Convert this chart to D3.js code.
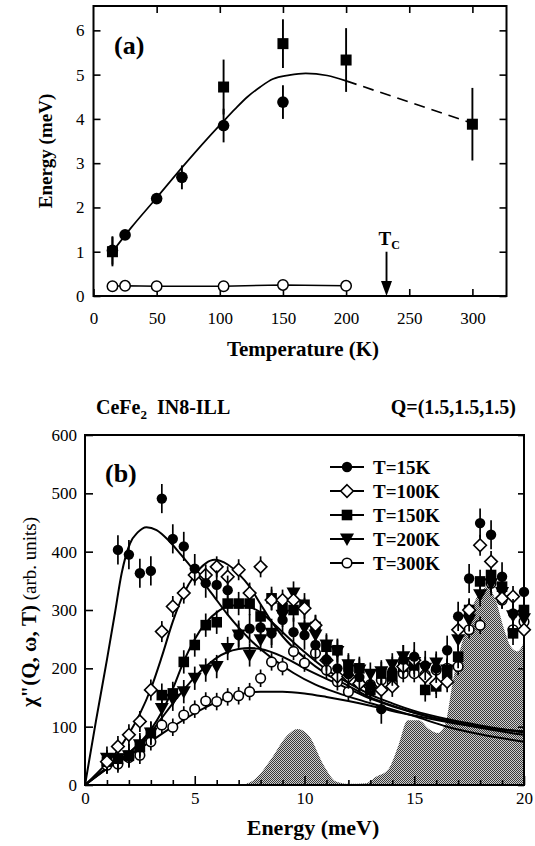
<!DOCTYPE html>
<html>
<head>
<meta charset="utf-8">
<script src="https://cdn.jsdelivr.net/npm/d3@7"></script>
<style>
body { margin: 0; background: #fff; }
text { font-family: "Liberation Serif", "Times New Roman", serif; }
</style>
</head>
<body>
<svg id="fig" width="535" height="846"></svg>
<script>
// ---------- panel (a) data ----------
const tempCircles = [15, 25, 50, 70, 103, 150];
const energyCircles = [1.03, 1.38, 2.2, 2.68, 3.85, 4.38];
const errCircles = [0.32, 0.08, 0.1, 0.27, 0.38, 0.38];
const tempSquares = [15, 103, 150, 200, 300];
const energySquares = [1.0, 4.72, 5.7, 5.33, 3.88];
const errSquares = [0.33, 0.62, 0.55, 0.72, 0.82];
const tempOpen = [15, 25, 50, 103, 150, 200];
const energyOpen = [0.22, 0.23, 0.22, 0.22, 0.25, 0.23];
const fitTemp = [15, 30, 50, 70, 90, 103, 112, 122, 132, 142, 155, 168, 185, 200];
const fitEnergy = [1.0, 1.55, 2.22, 2.9, 3.55, 3.95, 4.22, 4.5, 4.72, 4.9, 4.99, 5.03, 4.98, 4.86];
const dashTemp = [200, 300];
const dashEnergy = [4.86, 3.9];
const tempTicks = [0, 50, 100, 150, 200, 250, 300];
const energyTicks = [0, 1, 2, 3, 4, 5, 6];
const tcTemp = 232;

// ---------- panel (b) data ----------
const seriesNames = ["T=15K", "T=100K", "T=150K", "T=200K", "T=300K"];
const seriesMarks = ["circleFill", "diamond", "square", "triangle", "circleOpen"];
const seriesErr = [25, 18, 20, 20, 15];
const e15 = [1.5,2,2.5,3,3.5,4,4.5,5,5.5,6,6.5,7,7.5,8,8.5,9,9.5,10,10.5,11,11.5,12,12.5,13,13.5,14,14.5,15,15.5,16,16.5,17,17.5,18,18.5,19,19.5,20];
const v15 = [403,395,363,367,491,422,409,371,346,343,334,257,268,270,260,283,262,257,240,215,200,190,185,170,130,195,215,220,205,200,231,289,354,449,429,357,294,331];
const eGrid = [1,1.5,2,2.5,3,3.5,4,4.5,5,5.5,6,6.5,7,7.5,8,8.5,9,9.5,10,10.5,11,11.5,12,12.5,13,13.5,14,14.5,15,15.5,16,16.5,17,17.5,18,18.5,19,19.5,20];
const v100 = [40,66,86,109,163,263,306,329,360,360,374,357,369,329,374,317,317,317,303,274,214,186,186,174,169,163,169,203,214,186,174,177,266,300,411,383,320,323,266];
const v150 = [40,45,50,65,89,154,157,211,240,274,279,311,311,311,289,320,303,300,309,271,237,231,203,200,163,191,186,203,205,163,169,191,220,300,349,360,340,260,300];
const v200 = [46,45,50,69,89,131,147,160,183,197,203,234,257,223,249,260,291,329,269,257,240,229,206,197,190,194,206,220,210,200,209,197,249,283,326,345,330,290,285];
const v300 = [34,36,47,51,74,103,99,120,130,144,143,151,153,160,183,211,203,229,209,226,197,177,160,175,172,180,175,191,191,189,197,200,203,266,274,346,317,266,280];

const fitE15 = [0,0.5,1,1.36,1.67,2.05,2.4,2.8,3.26,3.79,4.39,5,5.76,6.5,7.5,8.5,9.5,10.5,11.5,12.5,13.5,15,16.5,18,20];
const fitV15 = [0,110,215,294,363,414,433,442,437,420,394,366,329,292,250,218,192,172,158,146,135,118,100,87,74];
const fitE100 = [0,1,1.5,2,2.5,3,3.5,4,4.5,5,5.5,5.9,6.5,7,7.5,8,8.5,9,10,11,12,13,14,15,16.5,18,20];
const fitV100 = [0,38,60,88,122,165,220,280,328,360,380,386,378,362,340,310,280,255,218,190,170,150,136,124,110,98,86];
const fitE150 = [0,1,2,3,3.5,4,4.5,5,5.5,6,6.5,7,7.5,8,8.5,9,10,11,12,13,14,15,16.5,18,20];
const fitV150 = [0,30,55,95,125,165,212,250,278,296,306,308,305,296,280,262,228,198,175,155,140,127,113,102,90];
const fitE200 = [0,1,2,3,3.5,4,4.5,5,5.5,6,6.5,7,7.5,8,9,10,11,12,13,14,15,16.5,18,20];
const fitV200 = [0,28,55,90,115,140,163,185,203,218,228,233,235,233,220,200,182,165,148,135,124,110,100,91];
const fitE300 = [0,1,2,3,4,5,6,7,8,9,10,11,12,13,14,15,16.5,18,20];
const fitV300 = [0,28,50,75,100,123,142,155,160,160,157,151,144,136,127,119,108,99,92];

const grayE = [7.2,7.8,8.56,9.17,9.7,10.23,10.83,11.44,12.0,12.8,13.26,13.8,14.3,14.7,15.2,15.7,16.06,16.4,16.8,17.05,17.35,17.7,18.0,18.35,18.7,19.1,19.4,19.7,20];
const grayV = [0,12,49,83,96,83,37,6,2,3,14,26,70,111,111,95,89,103,186,226,266,310,330,340,318,266,237,229,245];
const chiTicks = [0, 100, 200, 300, 400, 500, 600];
const energyBTicks = [0, 5, 10, 15, 20];

const svg = d3.select("#fig");
const serif = "'Liberation Serif', 'Times New Roman', serif";

// ---------- panel (a) ----------
const xA = d3.scaleLinear().domain([0, 327]).range([93.5, 506.5]);
const yA = d3.scaleLinear().domain([0, 6.55]).range([296, 6]);
const ga = svg.append("g");

ga.append("g").attr("transform", "translate(93.5,0)")
  .call(d3.axisLeft(yA).tickValues(energyTicks).tickSizeInner(-7).tickSizeOuter(0).tickPadding(9).tickFormat(d3.format("d")));
ga.append("g").attr("transform", "translate(506.5,0)")
  .call(d3.axisRight(yA).tickValues(energyTicks).tickSizeInner(-7).tickSizeOuter(0).tickFormat(""));
ga.append("g").attr("transform", "translate(0,296)")
  .call(d3.axisBottom(xA).tickValues(tempTicks).tickSizeInner(-7).tickSizeOuter(0).tickPadding(16));
ga.append("g").attr("transform", "translate(0,6)")
  .call(d3.axisTop(xA).tickValues(tempTicks.slice(1)).tickSizeInner(-7).tickSizeOuter(0).tickFormat(""));
ga.selectAll(".domain").remove();
ga.selectAll(".tick line").attr("stroke", "#000").attr("stroke-width", 1.6);
ga.selectAll(".tick text").attr("font-size", 17).attr("fill", "#000");
ga.append("rect").attr("x", 93.5).attr("y", 6).attr("width", 413).attr("height", 290)
  .attr("fill", "none").attr("stroke", "#000").attr("stroke-width", 2);

ga.append("path").datum(d3.zip(fitTemp, fitEnergy))
  .attr("fill", "none").attr("stroke", "#000").attr("stroke-width", 1.7)
  .attr("d", d3.line().x(d => xA(d[0])).y(d => yA(d[1])).curve(d3.curveMonotoneX));
ga.append("path").datum(d3.zip(dashTemp, dashEnergy))
  .attr("fill", "none").attr("stroke", "#000").attr("stroke-width", 1.7).attr("stroke-dasharray", "11,7")
  .attr("d", d3.line().x(d => xA(d[0])).y(d => yA(d[1])));
ga.append("path").datum(d3.zip(tempOpen, energyOpen))
  .attr("fill", "none").attr("stroke", "#000").attr("stroke-width", 1.5)
  .attr("d", d3.line().x(d => xA(d[0])).y(d => yA(d[1])));

// error bars (a)
function errA(ts, es, er) {
  ga.append("g").selectAll("line").data(d3.range(ts.length)).join("line")
    .attr("x1", i => xA(ts[i])).attr("x2", i => xA(ts[i]))
    .attr("y1", i => yA(es[i] - er[i])).attr("y2", i => yA(es[i] + er[i]))
    .attr("stroke", "#000").attr("stroke-width", 1.9);
}
errA(tempCircles, energyCircles, errCircles);
errA(tempSquares, energySquares, errSquares);

ga.append("g").selectAll("circle").data(d3.range(tempCircles.length)).join("circle")
  .attr("cx", i => xA(tempCircles[i])).attr("cy", i => yA(energyCircles[i])).attr("r", 5.8).attr("fill", "#000");
ga.append("g").selectAll("rect").data(d3.range(tempSquares.length)).join("rect")
  .attr("x", i => xA(tempSquares[i]) - 5.5).attr("y", i => yA(energySquares[i]) - 5.5)
  .attr("width", 11).attr("height", 11).attr("fill", "#000");
ga.append("g").selectAll("circle").data(d3.range(tempOpen.length)).join("circle")
  .attr("cx", i => xA(tempOpen[i])).attr("cy", i => yA(energyOpen[i])).attr("r", 5.2)
  .attr("fill", "#fff").attr("stroke", "#000").attr("stroke-width", 1.5);

// Tc arrow
const tcx = xA(tcTemp);
ga.append("line").attr("x1", tcx).attr("x2", tcx).attr("y1", yA(1.0)).attr("y2", yA(0) - 12)
  .attr("stroke", "#000").attr("stroke-width", 1.9);
ga.append("path").attr("d", `M${tcx - 5.5},${yA(0) - 15} L${tcx + 5.5},${yA(0) - 15} L${tcx},${yA(0)} Z`).attr("fill", "#000");
const tcLab = ga.append("text").attr("x", tcx - 8).attr("y", 245).attr("font-size", 19).attr("font-weight", "bold");
tcLab.append("tspan").text("T");
tcLab.append("tspan").attr("font-size", 12).attr("dy", 4).text("C");

ga.append("text").attr("x", 114).attr("y", 54).attr("font-size", 26).attr("font-weight", "bold").text("(a)");
ga.append("text").attr("x", 303).attr("y", 356).attr("text-anchor", "middle")
  .attr("font-size", 21).attr("font-weight", "bold").text("Temperature (K)");
ga.append("text").attr("transform", "translate(52,151) rotate(-90)").attr("text-anchor", "middle")
  .attr("font-size", 19).attr("font-weight", "bold").text("Energy (meV)");

// ---------- panel (b) ----------
const xB = d3.scaleLinear().domain([0, 20]).range([85, 524]);
const yB = d3.scaleLinear().domain([0, 600]).range([785, 435]);
const gb = svg.append("g");

const defs = svg.append("defs");
const pat = defs.append("pattern").attr("id", "dither").attr("width", 2).attr("height", 2).attr("patternUnits", "userSpaceOnUse");
pat.append("rect").attr("width", 2).attr("height", 2).attr("fill", "#cfcfcf");
pat.append("rect").attr("width", 1).attr("height", 1).attr("fill", "#3a3a3a");
pat.append("rect").attr("x", 1).attr("y", 1).attr("width", 1).attr("height", 1).attr("fill", "#3a3a3a");

gb.append("path").datum(d3.zip(grayE, grayV))
  .attr("fill", "url(#dither)")
  .attr("d", d3.area().x(d => xB(d[0])).y0(yB(0)).y1(d => yB(d[1])).curve(d3.curveMonotoneX));

gb.append("g").attr("transform", "translate(85,0)")
  .call(d3.axisLeft(yB).tickValues(chiTicks).tickSizeInner(-8).tickSizeOuter(0).tickPadding(8));
gb.append("g").attr("transform", "translate(524,0)")
  .call(d3.axisRight(yB).tickValues(chiTicks).tickSizeInner(-6).tickSizeOuter(0).tickFormat(""));
gb.append("g").attr("transform", "translate(0,785)")
  .call(d3.axisBottom(xB).tickValues(energyBTicks).tickSizeInner(-9).tickSizeOuter(0).tickPadding(7));
gb.append("g").attr("transform", "translate(0,785)")
  .call(d3.axisBottom(xB).tickValues(d3.range(1, 20).filter(v => v % 5 != 0)).tickSizeInner(-5).tickSizeOuter(0).tickFormat(""));
gb.selectAll(".domain").remove();
gb.selectAll(".tick line").attr("stroke", "#000").attr("stroke-width", 1.6);
gb.selectAll(".tick text").attr("font-size", 17).attr("fill", "#000");
gb.append("rect").attr("x", 85).attr("y", 435).attr("width", 439).attr("height", 350)
  .attr("fill", "none").attr("stroke", "#000").attr("stroke-width", 2);

const fits = [[fitE15, fitV15], [fitE100, fitV100], [fitE150, fitV150], [fitE200, fitV200], [fitE300, fitV300]];
const lineB = d3.line().x(d => xB(d[0])).y(d => yB(d[1])).curve(d3.curveMonotoneX);
fits.forEach(f => {
  gb.append("path").datum(d3.zip(f[0], f[1]))
    .attr("fill", "none").attr("stroke", "#000").attr("stroke-width", 2).attr("d", lineB);
});

function marker(g, type, x, y) {
  if (type == "circleFill") {
    g.append("circle").attr("cx", x).attr("cy", y).attr("r", 5.2).attr("fill", "#000");
  } else if (type == "circleOpen") {
    g.append("circle").attr("cx", x).attr("cy", y).attr("r", 4.8).attr("fill", "#fff").attr("stroke", "#000").attr("stroke-width", 1.6);
  } else if (type == "diamond") {
    g.append("path").attr("d", `M${x},${y - 6.3} L${x + 6.3},${y} L${x},${y + 6.3} L${x - 6.3},${y} Z`)
      .attr("fill", "#fff").attr("stroke", "#000").attr("stroke-width", 1.6);
  } else if (type == "square") {
    g.append("rect").attr("x", x - 5.3).attr("y", y - 5.3).attr("width", 10.6).attr("height", 10.6).attr("fill", "#000");
  } else if (type == "triangle") {
    g.append("path").attr("d", `M${x - 7},${y - 5.5} L${x + 7},${y - 5.5} L${x},${y + 7} Z`).attr("fill", "#000");
  }
}

const seriesE = [e15, eGrid, eGrid, eGrid, eGrid];
const seriesV = [v15, v100, v150, v200, v300];
// draw in reverse so 15K sits on top
[4, 3, 2, 1, 0].forEach(s => {
  const g = gb.append("g");
  seriesE[s].forEach((e, i) => {
    const v = seriesV[s][i];
    g.append("line").attr("x1", xB(e)).attr("x2", xB(e))
      .attr("y1", yB(v - seriesErr[s])).attr("y2", yB(v + seriesErr[s]))
      .attr("stroke", "#000").attr("stroke-width", 1.7);
  });
  seriesE[s].forEach((e, i) => marker(g, seriesMarks[s], xB(e), yB(seriesV[s][i])));
});

// legend
const leg = gb.append("g");
seriesNames.forEach((n, i) => {
  const y = 467 + i * 24;
  leg.append("line").attr("x1", 330).attr("x2", 364).attr("y1", y).attr("y2", y).attr("stroke", "#000").attr("stroke-width", 2);
  marker(leg, seriesMarks[i], 347, y);
  leg.append("text").attr("x", 373).attr("y", y + 6.5).attr("font-size", 19).attr("font-weight", "bold").text(n);
});

gb.append("text").attr("x", 105).attr("y", 482).attr("font-size", 26).attr("font-weight", "bold").text("(b)");
const ttl = gb.append("text").attr("x", 96).attr("y", 414).attr("font-size", 20).attr("font-weight", "bold");
ttl.append("tspan").text("CeFe");
ttl.append("tspan").attr("font-size", 13).attr("dy", 5).text("2");
ttl.append("tspan").attr("dy", -5).attr("dx", 10).text("IN8-ILL");
gb.append("text").attr("x", 516).attr("y", 414).attr("text-anchor", "end").attr("font-size", 20).attr("font-weight", "bold").text("Q=(1.5,1.5,1.5)");
gb.append("text").attr("x", 313).attr("y", 835).attr("text-anchor", "middle")
  .attr("font-size", 22).attr("font-weight", "bold").text("Energy (meV)");
const yl = gb.append("text").attr("transform", "translate(36,612) rotate(-90)").attr("text-anchor", "middle").attr("font-size", 19);
yl.append("tspan").attr("font-weight", "bold").attr("font-size", 21).text("χ\"(Q, ω, T)");
yl.append("tspan").text("  (arb. units)");

svg.selectAll("text").attr("font-family", serif);
</script>
</body>
</html>
